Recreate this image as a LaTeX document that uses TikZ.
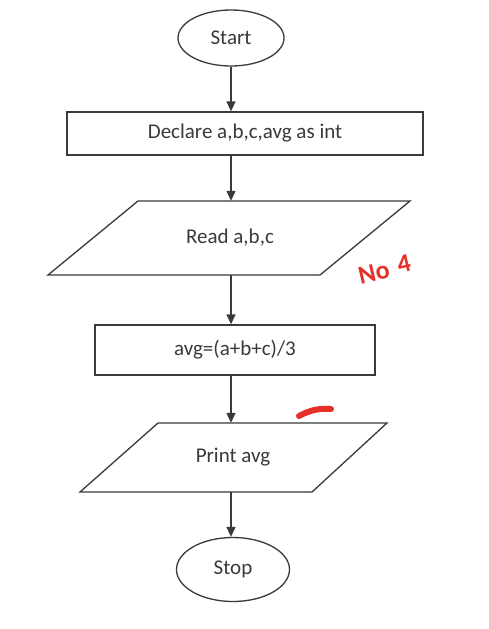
\documentclass[tikz,border=0pt]{standalone}
\usepackage{fontspec}
\setmainfont{Carlito}
\usetikzlibrary{shapes.geometric,arrows.meta}
\definecolor{ink}{HTML}{3A3A3A}
\definecolor{pen}{HTML}{E8302A}
\begin{document}
\begin{tikzpicture}[x=1pt,y=-1pt,
  line/.style={draw=ink, line width=1.3pt},
  lbl/.style={font=\fontsize{21}{24}\selectfont, text=ink},
  term/.style={ellipse, line, lbl, minimum width=106pt, minimum height=56pt, inner sep=0pt},
  box/.style={rectangle, line, lbl, inner sep=0pt},
  io/.style={rectangle, lbl, inner sep=0pt, minimum width=1pt},
  arr/.style={line, -{Triangle[length=10pt,width=9pt]}},
  note/.style={text=pen, rotate=13, font=\fontsize{26}{30}\selectfont, inner sep=0pt}]
\useasboundingbox[fill=white] (0,0) rectangle (488,629);

\node[term] (start) at (231,38) {Start};
\node[box, minimum width=356pt, minimum height=43pt] (decl) at (245,133.5) {Declare a,b,c,avg as int};
\draw[line] (138,201) -- (410,201) -- (320,275) -- (48,275) -- cycle;
\node[io, minimum height=74pt] (read) at (230,238) {Read a,b,c};
\node[box, minimum width=280pt, minimum height=50pt] (avg) at (235,350) {avg=(a+b+c)/3};
\draw[line] (158,423) -- (387,423) -- (312,492) -- (80,492) -- cycle;
\node[io, minimum height=69pt] (print) at (233,457.5) {Print avg};
\node[term, minimum width=113pt, minimum height=64pt] (stop) at (233,569.5) {Stop};

\coordinate (a1) at (start.south);
\draw[arr] (a1) -- (a1 |- decl.north);
\coordinate (a2) at (a1 |- decl.south);
\draw[arr] (a2) -- (a2 |- read.north);
\coordinate (a3) at (a1 |- read.south);
\draw[arr] (a3) -- (a3 |- avg.north);
\coordinate (a4) at (a1 |- avg.south);
\draw[arr] (a4) -- (a4 |- print.north);
\coordinate (a5) at (a1 |- print.south);
\draw[arr] (a5) -- (a5 |- stop.north);

\node[note] (no) at (374,273) {\bfseries No};
\node[note] (four) at (404,264) {\bfseries 4};
\draw[pen, line width=6pt, line cap=round] (299,416) .. controls (310,410) and (320,408) .. (331,409);
\end{tikzpicture}
\end{document}
